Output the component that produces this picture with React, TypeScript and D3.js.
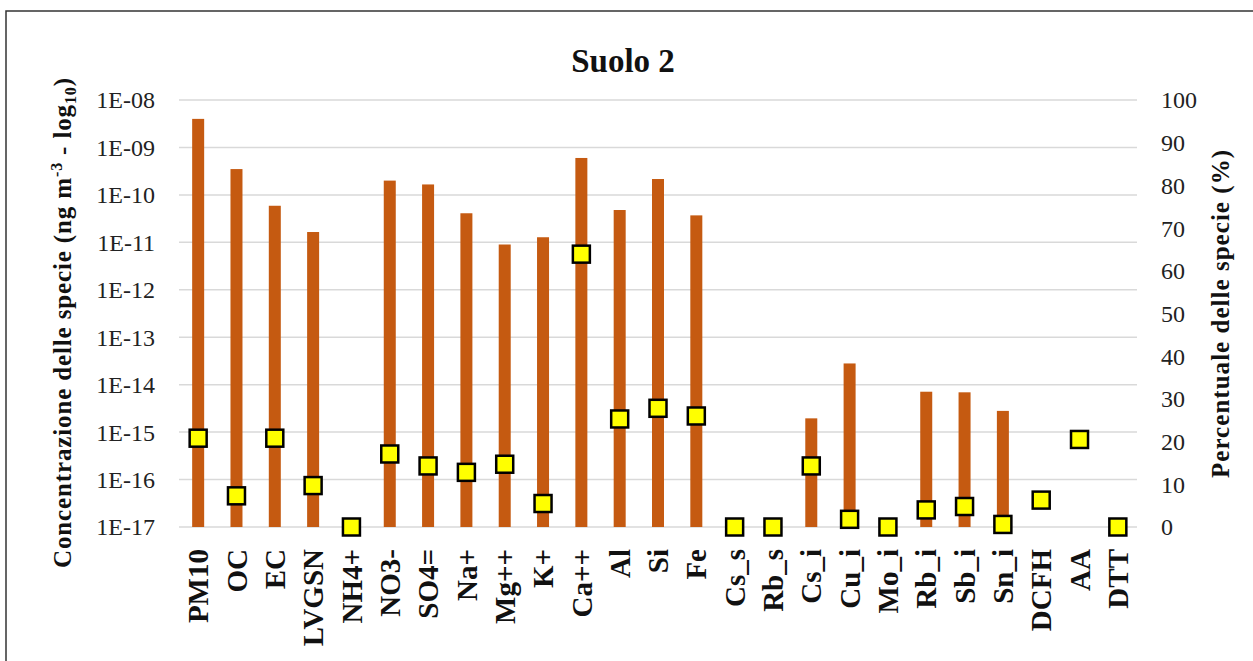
import React from "react";
import * as d3 from "d3";

const categories = ["PM10","OC","EC","LVGSN","NH4+","NO3-","SO4=","Na+","Mg++","K+","Ca++","Al","Si","Fe","Cs_s","Rb_s","Cs_i","Cu_i","Mo_i","Rb_i","Sb_i","Sn_i","DCFH","AA","DTT"];
const concentration: (number | null)[] = [4.0e-9,3.5e-10,5.9e-11,1.65e-11,null,2.0e-10,1.66e-10,4.1e-11,9e-12,1.28e-11,6.0e-10,4.8e-11,2.16e-10,3.7e-11,null,null,1.95e-15,2.8e-14,null,7.1e-15,6.9e-15,2.8e-15,null,null,null];
const percentage = [20.8,7.3,20.8,9.7,0,17.1,14.3,12.8,14.7,5.5,63.9,25.3,27.8,26,0,0,14.3,1.8,0,4,4.8,0.6,6.3,20.5,0];
const leftTicks = [1e-8,1e-9,1e-10,1e-11,1e-12,1e-13,1e-14,1e-15,1e-16,1e-17];
const leftTickLabels = ["1E-08","1E-09","1E-10","1E-11","1E-12","1E-13","1E-14","1E-15","1E-16","1E-17"];
const rightTicks = [0,10,20,30,40,50,60,70,80,90,100];
const title = "Suolo 2";

export default function App() {
  const W = 1253, H = 661;
  const left = 179, right = 1137, top = 100, bottom = 527;
  const x = d3.scaleBand<string>().domain(categories).range([left, right]);
  const yL = d3.scaleLog().domain([1e-17, 1e-8]).range([bottom, top]);
  const yR = d3.scaleLinear().domain([0, 100]).range([bottom, top]);
  const font = "'Liberation Serif', 'Times New Roman', serif";
  const barW = 12;
  const mk = 17;
  return (
    <svg width={W} height={H} style={{ position: "absolute", left: 0, top: 0, background: "#fff" }} fontFamily={font}>
      <rect x={6} y={11} width={1300} height={700} fill="#fff" stroke="#333" strokeWidth={1.5} />
      <text x={623} y={72} textAnchor="middle" fontSize={33} fontWeight="bold" fill="#111">{title}</text>
      {leftTicks.map((t, i) => (
        <g key={"g" + i}>
          <line x1={left} x2={right} y1={yL(t)} y2={yL(t)} stroke="#d9d9d9" strokeWidth={1.5} />
          <text x={155} y={yL(t)} dy="0.35em" textAnchor="end" fontSize={24} fill="#222">{leftTickLabels[i]}</text>
        </g>
      ))}
      {rightTicks.map((t) => (
        <text key={"r" + t} x={1161} y={yR(t)} dy="0.35em" textAnchor="start" fontSize={24} fill="#222">{t}</text>
      ))}
      {categories.map((c, i) => {
        const v = concentration[i];
        if (v == null) return null;
        const cx = (x(c) as number) + x.bandwidth() / 2;
        return <rect key={"b" + c} x={cx - barW / 2} y={yL(v)} width={barW} height={bottom - yL(v)} fill="#C55A11" />;
      })}
      {categories.map((c, i) => {
        const cx = (x(c) as number) + x.bandwidth() / 2;
        const cy = yR(percentage[i]);
        return <rect key={"m" + c} x={cx - mk / 2} y={cy - mk / 2} width={mk} height={mk} fill="#FFFF00" stroke="#000" strokeWidth={2.5} />;
      })}
      {categories.map((c) => {
        const cx = (x(c) as number) + x.bandwidth() / 2;
        return (
          <text key={"l" + c} transform={`translate(${cx},549) rotate(-90)`} dy="0.35em" textAnchor="end" fontSize={29} fontWeight="bold" fill="#111">{c}</text>
        );
      })}
      <text transform="translate(62,323) rotate(-90)" dy="0.35em" textAnchor="middle" fontSize={25} fontWeight="bold" fill="#111" textLength={490} lengthAdjust="spacing">
        Concentrazione delle specie (ng m<tspan dy="-9" fontSize={16}>-3</tspan><tspan dy="9"> - log</tspan><tspan dy="5" fontSize={16}>10</tspan><tspan dy="-5">)</tspan>
      </text>
      <text transform="translate(1220,314) rotate(-90)" dy="0.35em" textAnchor="middle" fontSize={25} fontWeight="bold" fill="#111" textLength={328} lengthAdjust="spacing">Percentuale delle specie (%)</text>
    </svg>
  );
}
